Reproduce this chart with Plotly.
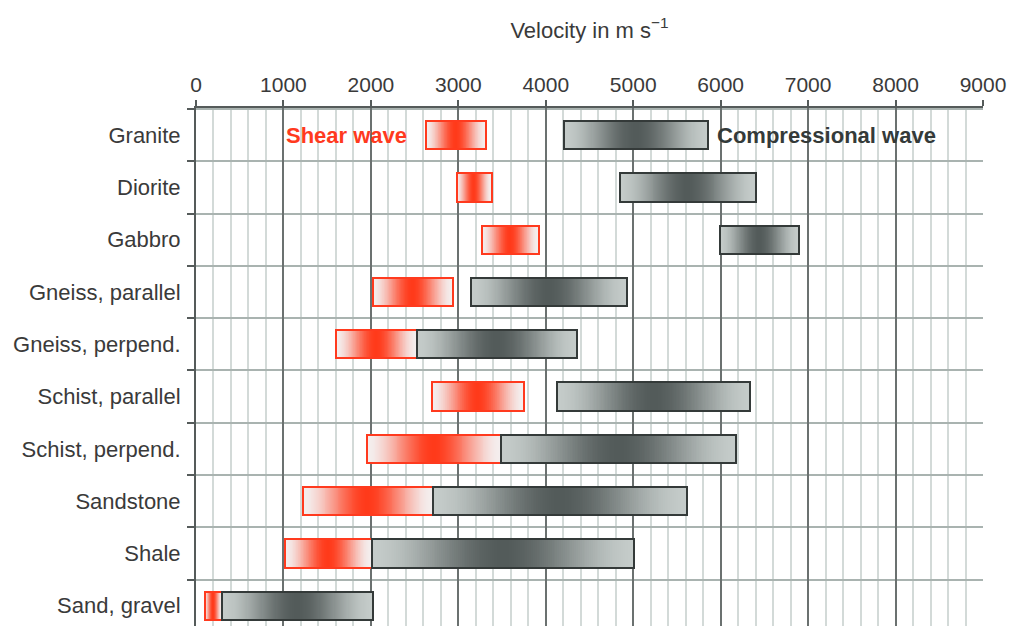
import plotly.graph_objects as go

# Rock types, top to bottom
rocks = ["Granite", "Diorite", "Gabbro", "Gneiss, parallel", "Gneiss, perpend.",
         "Schist, parallel", "Schist, perpend.", "Sandstone", "Shale", "Sand, gravel"]

# Shear-wave velocity ranges (m/s)
vs_min = [2630, 2980, 3270, 2020, 1600, 2700, 1960, 1220, 1020, 100]
vs_max = [3320, 3380, 3920, 2940, 2530, 3750, 3490, 2710, 2010, 300]

# Compressional-wave velocity ranges (m/s)
vp_min = [4210, 4850, 5990, 3150, 2530, 4130, 3490, 2710, 2010, 300]
vp_max = [5860, 6400, 6900, 4930, 4360, 6340, 6175, 5610, 5010, 2020]

x_ticks = list(range(0, 10000, 1000))

RED_EDGE, RED_MID = (244, 238, 238), (255, 58, 26)
GREY_EDGE, GREY_MID = (196, 203, 201), (83, 91, 90)
BAR_W = 0.54
N_SLICES = 140


def mix(a, b, t):
    return "rgb(%d,%d,%d)" % tuple(round(a[i] + (b[i] - a[i]) * t) for i in range(3))


def gradient_slices(lo, hi, edge, mid):
    """Split each range into thin slices shaded light-dark-light."""
    ys, bases, widths, colors = [], [], [], []
    for row, (a, b) in enumerate(zip(lo, hi)):
        step = (b - a) / N_SLICES
        for k in range(N_SLICES):
            u = (k + 0.5) / N_SLICES
            t = 1 - abs(2 * u - 1)
            t = t * t * (3 - 2 * t)
            ys.append(row)
            bases.append(a + k * step)
            widths.append(step * 1.6 if k < N_SLICES - 1 else step)
            colors.append(mix(edge, mid, t))
    return ys, bases, widths, colors


fig = go.Figure()


def add_series(lo, hi, edge, mid, line_color, name):
    ys, bases, widths, colors = gradient_slices(lo, hi, edge, mid)
    fig.add_trace(go.Bar(
        orientation="h", y=ys, base=bases, x=widths, width=BAR_W,
        marker=dict(color=colors, line=dict(width=0)),
        hoverinfo="skip", showlegend=False, name=name))
    fig.add_trace(go.Bar(
        orientation="h", y=list(range(len(lo))), base=lo,
        x=[b - a for a, b in zip(lo, hi)], width=BAR_W,
        marker=dict(color="rgba(0,0,0,0)", line=dict(color=line_color, width=2)),
        showlegend=False, name=name))


add_series(vs_min, vs_max, RED_EDGE, RED_MID, "#ff3a1e", "Shear wave")
add_series(vp_min, vp_max, GREY_EDGE, GREY_MID, "#343a39", "Compressional wave")

fig.add_annotation(x=2440, y=0, xref="x", yref="y", text="<b>Shear wave</b>",
                   showarrow=False, xanchor="right", yanchor="middle",
                   font=dict(family="Liberation Sans, Arial", size=22, color="#ff3a1e"))
fig.add_annotation(x=5930, y=0, xref="x", yref="y", text="<b>Compressional wave</b>",
                   showarrow=False, xanchor="left", yanchor="middle",
                   font=dict(family="Liberation Sans, Arial", size=22, color="#343a39"))

fig.update_layout(
    width=1010, height=626,
    margin=dict(l=196, r=27, t=108, b=0),
    paper_bgcolor="white", plot_bgcolor="white",
    barmode="overlay", bargap=0,
    font=dict(family="Liberation Sans, Arial", color="#3a3a3a"),
    title=dict(text="Velocity in m s<sup>\u22121</sup>", x=0.5, xref="paper",
               y=1 - 30 / 626, yref="container", yanchor="middle", xanchor="center",
               font=dict(size=22, color="#3a3a3a")),
    xaxis=dict(
        side="top", range=[0, 9000], tickvals=x_ticks,
        showline=True, linecolor="#555b5a", linewidth=2,
        ticks="outside", ticklen=6, tickwidth=2, tickcolor="#555b5a",
        tickfont=dict(size=21, color="#3a3a3a"), ticklabelstandoff=0,
        showgrid=True, gridcolor="#6b7170", gridwidth=2, zeroline=False,
        minor=dict(dtick=200, showgrid=True, gridcolor="#d3dad8", gridwidth=2, ticks=""),
    ),
    yaxis=dict(
        range=[9.388, -0.52], tickvals=list(range(len(rocks))), ticktext=rocks,
        ticks="", showgrid=False, zeroline=False,
        showline=True, linecolor="#555b5a", linewidth=2,
        tickfont=dict(size=22, color="#3a3a3a"), ticklabelstandoff=9,
        minor=dict(tickvals=[i - 0.5 for i in range(len(rocks) + 1)],
                   ticks="outside", ticklen=7, tickwidth=2, tickcolor="#555b5a",
                   showgrid=True, gridcolor="#a9b3b0", gridwidth=2),
    ),
)

fig.write_html("out.html")
